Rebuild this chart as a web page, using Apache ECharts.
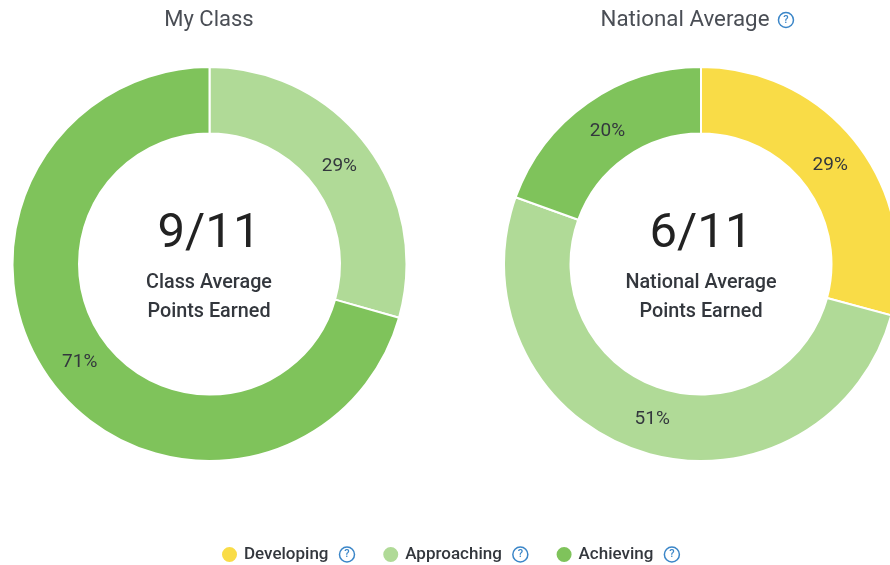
<!DOCTYPE html>
<html>
<head>
<meta charset="utf-8">
<style>
    html, body { margin: 0; padding: 0; background: #fff; }
    #chart { width: 890px; height: 565px; }
</style>
<script src="https://cdn.jsdelivr.net/npm/echarts@6/dist/echarts.min.js"></script>
</head>
<body>
<div id="chart"></div>
<script>
    const levels = ['Developing', 'Approaching', 'Achieving'];
    const levelColors = ['#f9dc47', '#b0da97', '#7fc35b'];
    const classValues = [0, 29.4, 70.6];
    const nationalValues = [29.2, 51.3, 19.5];

    const textColor = '#33373d';
    const helpColor = '#3b86c8';
    const font = 'Roboto';
    const centerY = 264;

    let chart = echarts.init(document.getElementById('chart'));

    // little round "?" used after the titles and legend names
    const helpStyle = {
        width: 15, height: 15, lineHeight: 16, align: 'center',
        borderRadius: 9, borderWidth: 1.5, borderColor: helpColor,
        color: helpColor, fontSize: 11, fontWeight: 500, fontFamily: font
    };

    function pieData(values) {
        return levels.map((name, i) => ({
            name: name, value: values[i],
            itemStyle: { color: levelColors[i] },
            label: { show: values[i] > 0 }
        }));
    }

    function donut(name, cx, values) {
        return {
            type: 'pie',
            name: name,
            center: [cx, centerY],
            radius: [130.5, 197],
            startAngle: 90,
            silent: true,
            animation: false,
            itemStyle: { borderColor: '#fff', borderWidth: 2 },
            label: {
                position: 'inside',
                formatter: p => Math.round(p.value) + '%',
                color: textColor,
                fontFamily: font,
                fontSize: 19
            },
            labelLine: { show: false },
            // pull the percent labels a little towards the hole
            labelLayout: p => {
                let dx = p.labelRect.x + p.labelRect.width / 2 - cx;
                let dy = p.labelRect.y + p.labelRect.height / 2 - centerY;
                let d = Math.sqrt(dx * dx + dy * dy);
                return { dx: -dx / d * 4, dy: -dy / d * 4 };
            },
            data: pieData(values)
        };
    }

    function centerTitles(x, big, line1, line2) {
        return [
            { text: big, left: x - 5, top: 205, textAlign: 'center',
              textStyle: { fontFamily: font, fontSize: 49, fontWeight: 400, color: '#222' } },
            { text: line1 + '\n' + line2, left: x - 5, top: 264, textAlign: 'center',
              textStyle: { fontFamily: font, fontSize: 19.8, fontWeight: 500, color: textColor, lineHeight: 29 } }
        ];
    }

    chart.setOption({
        backgroundColor: '#fff',
        animation: false,
        title: [
            { text: 'My Class', left: 204, top: 4, textAlign: 'center',
              textStyle: { fontFamily: font, fontSize: 22, fontWeight: 400, color: '#4a4e55' } },
            { text: '{t|National Average}{s| }{h|?}', left: 692, top: 4, textAlign: 'center',
              textStyle: { fontWeight: 400, rich: {
                  t: { fontFamily: font, fontSize: 22.3, fontWeight: 400, color: '#4a4e55' },
                  s: { width: 9 },
                  h: helpStyle
              } } }
        ].concat(
            centerTitles(209, '9/11', 'Class Average', 'Points Earned'),
            centerTitles(701, '6/11', 'National Average', 'Points Earned')
        ),
        legend: {
            data: levels,
            left: 220,
            top: 545,
            icon: 'circle',
            itemWidth: 19,
            itemHeight: 17,
            itemGap: 26,
            selectedMode: false,
            padding: 0,
            formatter: name => '{n|' + name + '}{s| }{h|?}',
            textStyle: {
                rich: {
                    n: { fontFamily: font, fontSize: 17, fontWeight: 500, color: textColor },
                    s: { width: 11 },
                    h: helpStyle
                }
            }
        },
        series: [
            donut('My Class', 209.5, classValues),
            donut('National Average', 701, nationalValues)
        ]
    });
</script>
</body>
</html>
